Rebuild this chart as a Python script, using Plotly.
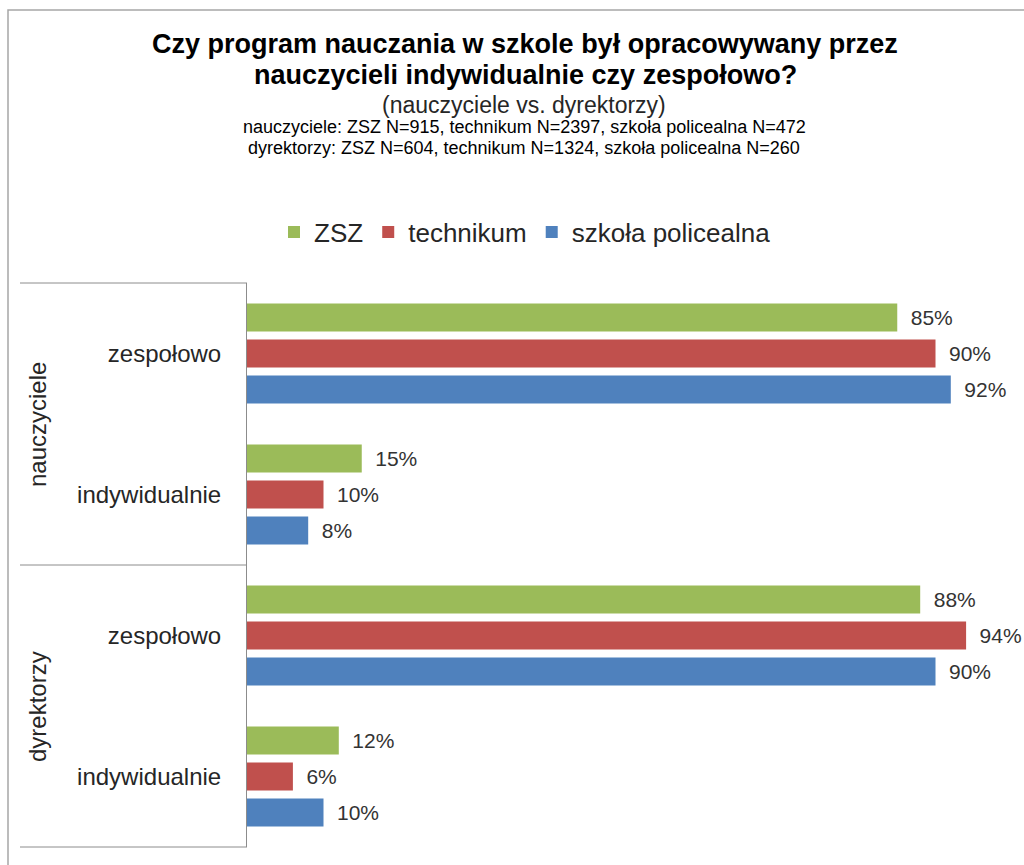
import plotly.graph_objects as go

# ---- data ----
groups = ["nauczyciele", "nauczyciele", "dyrektorzy", "dyrektorzy"]
answers = ["zespołowo", "indywidualnie", "zespołowo", "indywidualnie"]
zsz = [85, 15, 88, 12]
technikum = [90, 10, 94, 6]
policealna = [92, 8, 90, 10]
series_names = ["ZSZ", "technikum", "szkoła policealna"]
colors = ["#9BBB59", "#C0504D", "#4F81BD"]

title_lines = ["Czy program nauczania w szkole był opracowywany przez",
               "nauczycieli indywidualnie czy zespołowo?"]
subtitle = "(nauczyciele vs. dyrektorzy)"
n_lines = ["nauczyciele: ZSZ N=915, technikum N=2397, szkoła policealna N=472",
           "dyrektorzy: ZSZ N=604, technikum N=1324, szkoła policealna N=260"]

cats = [f"{g}|{a}" for g, a in zip(groups, answers)]

W, H = 1024, 865
L, R, T, B = 247, 12, 283, 18
PW = W - L - R
PH = H - T - B


def px(x):
    return (x - L) / PW


def py(y):
    return (H - B - y) / PH


FONT = "Liberation Sans, Arial, sans-serif"

fig = go.Figure()
for name, vals, col in zip(series_names, [zsz, technikum, policealna], colors):
    fig.add_trace(go.Bar(
        name=name, y=cats, x=vals, orientation="h",
        marker=dict(color=col, line=dict(color=col, width=0)),
        text=[f"\u2002{v}%" for v in vals], textposition="outside",
        textfont=dict(size=21, color="#333333", family=FONT),
        constraintext="none", cliponaxis=False,
        hoverinfo="x+y",
    ))

fig.update_layout(
    width=W, height=H,
    margin=dict(l=L, r=R, t=T, b=B),
    paper_bgcolor="white", plot_bgcolor="white",
    barmode="group", bargap=0.234, bargroupgap=0.222,
    font=dict(family=FONT, color="#262626"),
    showlegend=True,
    legend=dict(orientation="h", x=px(525), xanchor="center", y=py(232), yanchor="middle",
                font=dict(size=26, color="#262626", family=FONT), traceorder="normal",
                itemwidth=30),
)
fig.update_xaxes(range=[0, 100], visible=False, showgrid=False, zeroline=False)
fig.update_yaxes(autorange="reversed", tickmode="array", tickvals=cats, ticktext=answers,
                 showline=True, linecolor="#8c8c8c", linewidth=1, showgrid=False,
                 ticks="", ticklabelstandoff=20, tickfont=dict(size=24, color="#262626", family=FONT))

# title & subtitles
fig.add_annotation(text=f"<b>{title_lines[0]}</b>", x=px(525), y=py(44), xref="paper", yref="paper",
                   showarrow=False, font=dict(size=27, color="black", family=FONT), xanchor="center", yanchor="middle")
fig.add_annotation(text=f"<b>{title_lines[1]}</b>", x=px(525), y=py(75), xref="paper", yref="paper",
                   showarrow=False, font=dict(size=27, color="black", family=FONT), xanchor="center", yanchor="middle")
fig.add_annotation(text=subtitle, x=px(524), y=py(105), xref="paper", yref="paper",
                   showarrow=False, font=dict(size=23, color="#262626", family=FONT), xanchor="center", yanchor="middle")
fig.add_annotation(text=n_lines[0], x=px(524), y=py(127), xref="paper", yref="paper",
                   showarrow=False, font=dict(size=18, color="black", family=FONT), xanchor="center", yanchor="middle")
fig.add_annotation(text=n_lines[1], x=px(524), y=py(148), xref="paper", yref="paper",
                   showarrow=False, font=dict(size=18, color="black", family=FONT), xanchor="center", yanchor="middle")

# group labels (rotated)
for gi, g in enumerate(["nauczyciele", "dyrektorzy"]):
    fig.add_annotation(text=g, x=px(37), y=1 - (gi + 0.5) / 2, xref="paper", yref="paper",
                       showarrow=False, textangle=-90, font=dict(size=24, color="#262626", family=FONT),
                       xanchor="center", yanchor="middle")

# category box lines
for yv in [0, 0.5, 1]:
    fig.add_shape(type="line", xref="paper", yref="paper", x0=px(20), x1=0, y0=yv, y1=yv,
                  line=dict(color="#8c8c8c", width=1))

# outer chart border
fig.add_shape(type="rect", xref="paper", yref="paper", x0=px(8), x1=px(1030), y0=py(10), y1=py(880),
              line=dict(color="#a6a6a6", width=1.5), fillcolor="rgba(0,0,0,0)", layer="below")

fig.write_html("out.html", config={"displayModeBar": False},
               post_script="document.body.style.margin='0';")
